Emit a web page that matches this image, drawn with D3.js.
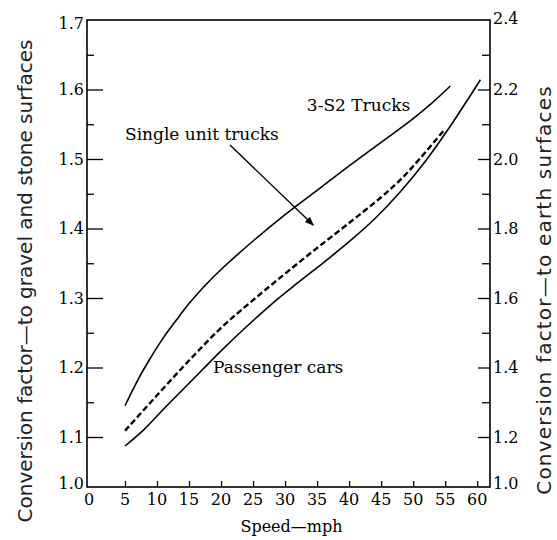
<!DOCTYPE html>
<html>
<head>
<meta charset="utf-8">
<script src="https://cdn.jsdelivr.net/npm/d3@7"></script>
<style>
  html, body { margin: 0; padding: 0; background: #fff; }
  svg { display: block; }
</style>
</head>
<body>
<svg id="chart" width="557" height="540"></svg>
<script>
// ---- data ----
const speedTicks = [0, 5, 10, 15, 20, 25, 30, 35, 40, 45, 50, 55, 60];
const leftTicks = [1.0, 1.1, 1.2, 1.3, 1.4, 1.5, 1.6, 1.7];
const leftMinor = [1.15, 1.25, 1.35, 1.45, 1.55, 1.65];
const rightTicks = [1.0, 1.2, 1.4, 1.6, 1.8, 2.0, 2.2, 2.4];
const rightMinor = [1.3, 1.5, 1.7, 1.9, 2.1, 2.3];

const trucksSpeed = [5, 7, 9, 11, 13, 15, 17.5, 20, 25, 30, 35, 40, 45, 50, 53, 55.8];
const trucksFactor = [1.145, 1.182, 1.214, 1.243, 1.268, 1.292, 1.318, 1.341, 1.382, 1.42, 1.455, 1.49, 1.524, 1.558, 1.581, 1.605];

const singleSpeed = [5, 10, 15, 20, 25, 30, 35, 40, 45, 48, 51, 54.7];
const singleFactor = [1.109, 1.160, 1.210, 1.257, 1.297, 1.335, 1.372, 1.408, 1.445, 1.470, 1.500, 1.540];

const carsSpeed = [5, 8, 11, 14, 17, 20, 24, 28, 32, 36, 40, 44, 48, 52, 56, 60.5];
const carsFactor = [1.082, 1.111, 1.140, 1.168, 1.196, 1.224, 1.259, 1.292, 1.322, 1.351, 1.381, 1.414, 1.453, 1.498, 1.550, 1.614];

const labels = [
  {text: "3-S2 Trucks", x: 33.4, y: 1.569},
  {text: "Single unit trucks", x: 5, y: 1.527},
  {text: "Passenger cars", x: 18.75, y: 1.192}
];
const arrowFrom = {x: 21.4, y: 1.520};
const arrowTo = {x: 34.4, y: 1.405};

// ---- layout ----
const L = 87, R = 490, T = 20, B = 487;
const svg = d3.select("#chart");

const x = d3.scaleLinear().domain([0, 5, 62]).range([L, 125, R]);
const y = d3.scaleLinear().domain([1.0, 1.1, 1.7]).range([B, 437, T]);
const y2 = d3.scaleLinear().domain([1.0, 1.2, 2.4]).range([B, 437, T]);

const serif = "DejaVu Serif";
const sans = "DejaVu Sans";

// frame
svg.append("rect").attr("x", L).attr("y", T).attr("width", R - L).attr("height", B - T)
  .attr("fill", "none").attr("stroke", "#000").attr("stroke-width", 1.6);

// left axis ticks (inward)
const gl = svg.append("g").attr("transform", `translate(${L},0)`);
gl.call(d3.axisRight(y).tickValues(leftTicks.filter(v => v > 1.0 && v < 1.7)).tickSize(16).tickFormat(""))
  .call(g => g.select(".domain").remove());
gl.append("g").call(d3.axisRight(y).tickValues(leftMinor).tickSize(7).tickFormat(""))
  .call(g => g.select(".domain").remove());
gl.selectAll("line").attr("stroke", "#000").attr("stroke-width", 1.3);

// left tick labels
svg.append("g").selectAll("text").data(leftTicks).join("text")
  .attr("x", L - 3).attr("y", d => y(d))
  .attr("dy", d => d === 1.7 ? "0.55em" : (d === 1.0 ? "0.1em" : "0.35em"))
  .attr("text-anchor", "end")
  .attr("font-family", serif).attr("font-size", 16).attr("fill", "#000")
  .text(d => d.toFixed(1));

// right axis ticks (inward)
const gr = svg.append("g").attr("transform", `translate(${R},0)`);
gr.call(d3.axisLeft(y2).tickValues(rightTicks.filter(v => v > 1.0 && v < 2.4)).tickSize(12).tickFormat(""))
  .call(g => g.select(".domain").remove());
gr.append("g").call(d3.axisLeft(y2).tickValues(rightMinor).tickSize(8).tickFormat(""))
  .call(g => g.select(".domain").remove());
gr.selectAll("line").attr("stroke", "#000").attr("stroke-width", 1.3);

svg.append("g").selectAll("text").data(rightTicks).join("text")
  .attr("x", R + 3).attr("y", d => y2(d))
  .attr("dy", d => d === 2.4 ? "0.25em" : (d === 1.0 ? "0.1em" : "0.35em"))
  .attr("text-anchor", "start")
  .attr("font-family", serif).attr("font-size", 16).attr("fill", "#000")
  .text(d => d.toFixed(1));

// bottom ticks
const gb = svg.append("g").attr("transform", `translate(0,${B})`);
gb.call(d3.axisTop(x).tickValues(speedTicks.filter(v => v > 0)).tickSize(6).tickFormat(""))
  .call(g => g.select(".domain").remove());
gb.selectAll("line").attr("stroke", "#000").attr("stroke-width", 1.3);

svg.append("g").selectAll("text").data(speedTicks).join("text")
  .attr("x", d => x(d) + (d === 0 ? 2 : 0)).attr("y", B + 18)
  .attr("text-anchor", "middle")
  .attr("font-family", serif).attr("font-size", 16).attr("fill", "#000")
  .text(d => d);

// axis titles
svg.append("text").attr("x", (L + R) / 2 + 3).attr("y", 532)
  .attr("text-anchor", "middle").attr("font-family", serif).attr("font-size", 16)
  .text("Speed\u2014mph");

svg.append("text").attr("transform", `translate(32,${281}) rotate(-90)`)
  .attr("text-anchor", "middle").attr("font-family", sans).attr("font-size", 20).attr("fill", "#222")
  .text("Conversion factor\u2014to gravel and stone surfaces");

svg.append("text").attr("transform", `translate(551,${290}) rotate(-90)`)
  .attr("text-anchor", "middle").attr("font-family", sans).attr("font-size", 20).attr("fill", "#222")
  .attr("letter-spacing", 1.2)
  .text("Conversion factor\u2014to earth surfaces");

// curves
const line = d3.line().x(d => x(d[0])).y(d => y(d[1])).curve(d3.curveCatmullRom.alpha(0.5));
const zip = (a, b) => a.map((v, i) => [v, b[i]]);

svg.append("path").attr("d", line(zip(trucksSpeed, trucksFactor)))
  .attr("fill", "none").attr("stroke", "#000").attr("stroke-width", 1.6);
svg.append("path").attr("d", line(zip(carsSpeed, carsFactor)))
  .attr("fill", "none").attr("stroke", "#000").attr("stroke-width", 1.6);
svg.append("path").attr("d", line(zip(singleSpeed, singleFactor)))
  .attr("fill", "none").attr("stroke", "#000").attr("stroke-width", 2.4)
  .attr("stroke-dasharray", "6,3");

// labels
svg.append("g").selectAll("text").data(labels).join("text")
  .attr("x", d => x(d.x)).attr("y", d => y(d.y))
  .attr("font-family", serif).attr("font-size", 17).attr("fill", "#000")
  .text(d => d.text);

// arrow
const defs = svg.append("defs");
defs.append("marker").attr("id", "ah").attr("viewBox", "0 0 10 10")
  .attr("refX", 9).attr("refY", 5).attr("markerWidth", 9).attr("markerHeight", 9)
  .attr("markerUnits", "userSpaceOnUse").attr("orient", "auto")
  .append("path").attr("d", "M0,1 L10,5 L0,9 Z").attr("fill", "#000");
svg.append("line")
  .attr("x1", x(arrowFrom.x)).attr("y1", y(arrowFrom.y))
  .attr("x2", x(arrowTo.x)).attr("y2", y(arrowTo.y))
  .attr("stroke", "#000").attr("stroke-width", 1.4).attr("marker-end", "url(#ah)");
</script>
</body>
</html>
